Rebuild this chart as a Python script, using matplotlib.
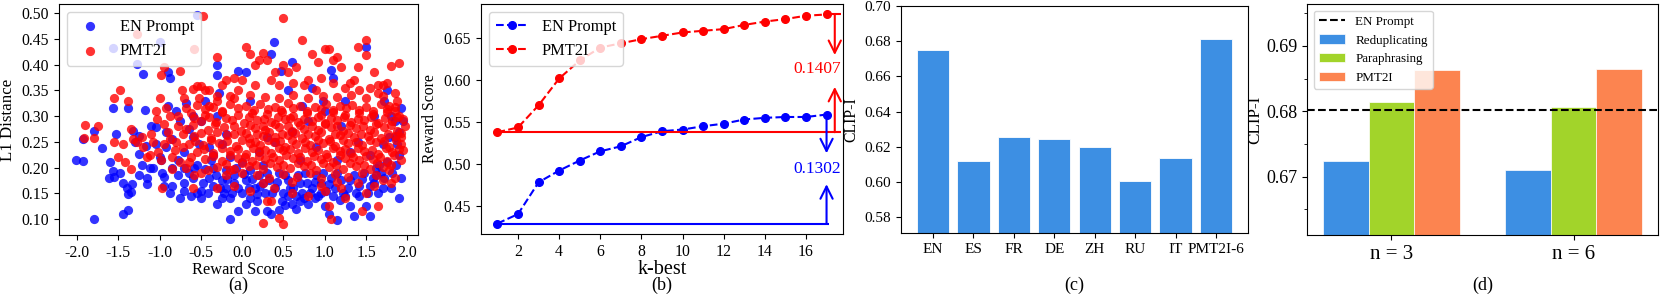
import matplotlib.pyplot as plt
from matplotlib.ticker import MultipleLocator, FormatStrFormatter

plt.rcParams["font.family"] = ["Liberation Serif", "DejaVu Serif"]

# ---------------- (a) scatter: reward score vs L1 distance ----------------
en_points = [
    (-2.02, 0.215), (-1.93, 0.213), (-1.93, 0.255), (-1.80, 0.101), (-1.80, 0.272),
    (-1.70, 0.238), (-1.60, 0.211), (-1.57, 0.193), (-1.55, 0.181), (-1.57, 0.315),
    (-1.53, 0.265), (-1.45, 0.170), (-1.45, 0.110), (-1.38, 0.118), (-1.38, 0.148),
    (-1.35, 0.152), (-1.40, 0.160), (-1.38, 0.315), (-1.33, 0.168), (-1.30, 0.250),
    (-1.32, 0.272), (-1.25, 0.185), (-1.25, 0.226), (-1.27, 0.402), (-1.57, 0.433),
    (-1.20, 0.382), (-1.18, 0.312), (-1.17, 0.242), (-1.15, 0.168), (-1.15, 0.180),
    (-1.00, 0.444), (-1.05, 0.278), (-1.00, 0.220), (-0.98, 0.215), (-0.97, 0.190),
    (-0.95, 0.181), (-0.92, 0.240), (-0.90, 0.320), (-0.90, 0.385), (-0.87, 0.375),
    (-0.85, 0.165), (-0.85, 0.200), (-0.80, 0.310), (-0.75, 0.140), (-0.70, 0.170),
    (-0.68, 0.325), (-0.65, 0.190), (-0.60, 0.180), (-0.55, 0.150), (-0.50, 0.155),
    (-0.50, 0.140), (-0.45, 0.198), (-0.35, 0.165), (-0.30, 0.130), (-0.30, 0.400),
    (-0.30, 0.380), (-0.28, 0.345), (-0.25, 0.140), (-0.22, 0.150), (-0.20, 0.160),
    (-0.15, 0.100), (-0.10, 0.170), (-0.05, 0.115), (-0.05, 0.388), (0.00, 0.150),
    (0.05, 0.385), (0.05, 0.130), (0.10, 0.140), (0.15, 0.115), (0.25, 0.170),
    (0.30, 0.115), (0.35, 0.110), (0.35, 0.420), (0.38, 0.445), (0.45, 0.118),
    (0.47, 0.388), (0.60, 0.405), (0.55, 0.145), (0.60, 0.130), (0.65, 0.120),
    (0.70, 0.135), (0.75, 0.140), (0.80, 0.130), (0.85, 0.355), (0.95, 0.150),
    (1.00, 0.125), (1.05, 0.110), (1.08, 0.390), (1.10, 0.375), (1.15, 0.098),
    (1.25, 0.145), (1.30, 0.125), (1.35, 0.105), (1.50, 0.435), (1.50, 0.125),
    (1.55, 0.105), (1.55, 0.165), (1.65, 0.150), (1.70, 0.160), (1.75, 0.350),
    (1.80, 0.300), (1.85, 0.260), (1.90, 0.140), (1.90, 0.225), (1.92, 0.315),
    (1.95, 0.290), (-0.55, 0.497),
    (-0.40, 0.180), (-0.35, 0.200), (-0.25, 0.175), (-0.20, 0.195), (-0.10, 0.185),
    (-0.05, 0.160), (0.05, 0.175), (0.10, 0.195), (0.15, 0.160), (0.20, 0.185),
    (0.28, 0.150), (0.32, 0.175), (0.40, 0.160), (0.45, 0.190), (0.50, 0.150),
    (0.55, 0.175), (0.62, 0.160), (0.68, 0.185), (0.72, 0.150), (0.78, 0.170),
    (0.85, 0.160), (0.90, 0.185), (0.95, 0.170), (1.02, 0.155), (1.08, 0.180),
    (1.12, 0.160), (1.20, 0.175), (1.28, 0.160), (1.35, 0.185), (1.42, 0.165),
    (1.48, 0.190), (1.58, 0.180), (1.62, 0.200), (1.68, 0.190), (1.75, 0.210),
    (1.82, 0.190), (1.88, 0.245), (1.85, 0.290), (1.72, 0.330), (-0.60, 0.260),
    (-0.50, 0.290), (-0.40, 0.240), (-0.15, 0.220), (0.00, 0.210), (0.20, 0.230),
    (0.40, 0.250), (0.60, 0.270), (0.80, 0.290), (1.00, 0.310), (1.20, 0.280),
    (1.40, 0.250), (-0.70, 0.230), (-0.75, 0.290), (-0.60, 0.300), (-0.45, 0.330),
    (-0.30, 0.300), (0.10, 0.330), (0.55, 0.350), (0.72, 0.320), (0.98, 0.330),
    (1.25, 0.330), (1.60, 0.300), (1.78, 0.260), (1.90, 0.270), (-1.10, 0.280),
    (-1.08, 0.200), (-1.25, 0.262), (-0.85, 0.255), (-0.78, 0.215), (-0.55, 0.205),
    (-0.35, 0.225), (-0.20, 0.265), (0.25, 0.205), (0.70, 0.215), (1.15, 0.215),
    (1.55, 0.225), (-0.15, 0.140), (0.18, 0.135), (0.52, 0.128), (0.88, 0.140),
    (1.18, 0.138), (1.42, 0.145), (1.62, 0.185), (-1.62, 0.180), (-1.48, 0.190),
    (-0.95, 0.165), (-0.88, 0.150), (-0.78, 0.185), (-0.70, 0.155), (-0.62, 0.145),
    (-0.58, 0.200), (-0.48, 0.170), (-0.42, 0.150), (-0.38, 0.215), (-0.32, 0.185),
    (-0.27, 0.160), (-0.18, 0.178), (-0.12, 0.150), (-0.08, 0.200), (0.02, 0.188),
    (0.08, 0.160), (0.12, 0.178), (0.18, 0.148), (0.22, 0.165), (0.30, 0.190),
    (0.36, 0.150), (0.42, 0.172), (0.48, 0.135), (0.52, 0.185), (0.58, 0.160),
    (0.65, 0.145), (0.70, 0.170), (0.76, 0.190), (0.82, 0.150), (0.88, 0.172),
    (0.92, 0.145), (0.98, 0.190), (1.05, 0.168), (1.10, 0.145), (1.15, 0.190),
    (1.22, 0.150), (1.30, 0.175), (1.38, 0.150), (1.45, 0.178), (1.52, 0.150),
    (1.60, 0.170), (1.66, 0.205), (1.72, 0.180), (1.80, 0.160), (1.86, 0.205),
    (1.92, 0.180), (-0.65, 0.275), (-0.52, 0.245), (-0.25, 0.245), (0.30, 0.260),
    (0.90, 0.240), (1.30, 0.230), (1.70, 0.245), (-1.05, 0.245), (-1.12, 0.200),
    (-1.22, 0.205), (-0.92, 0.270), (-0.70, 0.200),
]

pmt_points = [
    (-1.90, 0.283), (-1.92, 0.258), (-1.75, 0.280), (-1.80, 0.258), (-1.55, 0.335),
    (-1.48, 0.350), (-1.55, 0.250), (-1.50, 0.220), (-1.42, 0.210), (-1.38, 0.330),
    (-1.35, 0.275), (-1.35, 0.197), (-1.27, 0.460), (-1.27, 0.250), (-1.22, 0.260),
    (-1.20, 0.240), (-1.15, 0.220), (-1.12, 0.225), (-1.00, 0.335), (-1.05, 0.310),
    (-0.97, 0.160), (-0.98, 0.380), (-0.95, 0.395), (-0.92, 0.315), (-0.90, 0.270),
    (-0.88, 0.300), (-0.85, 0.220), (-0.85, 0.197), (-0.80, 0.250), (-0.75, 0.388),
    (-0.73, 0.350), (-0.70, 0.335), (-0.65, 0.210), (-0.62, 0.220), (-0.60, 0.352),
    (-0.58, 0.430), (-0.55, 0.358), (-0.50, 0.358), (-0.47, 0.495), (-0.45, 0.350),
    (-0.40, 0.350), (-0.40, 0.320), (-0.30, 0.415), (-0.30, 0.330), (-0.25, 0.360),
    (-0.20, 0.370), (-0.10, 0.375), (0.00, 0.370), (0.05, 0.435), (0.10, 0.420),
    (0.15, 0.400), (0.20, 0.410), (0.25, 0.422), (0.30, 0.410), (0.25, 0.093),
    (0.30, 0.135), (0.45, 0.102), (0.50, 0.090), (0.50, 0.490), (0.50, 0.400),
    (0.55, 0.385), (0.72, 0.448), (0.80, 0.370), (0.85, 0.420), (0.95, 0.375),
    (1.00, 0.430), (1.05, 0.430), (1.10, 0.410), (1.15, 0.415), (1.05, 0.125),
    (1.08, 0.100), (1.30, 0.365), (1.35, 0.370), (1.40, 0.435), (1.50, 0.448),
    (1.50, 0.418), (1.45, 0.115), (1.50, 0.150), (1.60, 0.385), (1.65, 0.125),
    (1.70, 0.360), (1.75, 0.365), (1.80, 0.397), (1.90, 0.403), (1.95, 0.295),
    (1.97, 0.280), (1.85, 0.345), (1.80, 0.170), (1.70, 0.175),
    (-1.45, 0.245), (-1.32, 0.255), (-1.10, 0.265), (-1.03, 0.295), (-0.95, 0.245),
    (-0.78, 0.280), (-0.72, 0.240), (-0.68, 0.200), (-0.60, 0.160), (-0.50, 0.190),
    (-0.30, 0.160), (-0.10, 0.165), (0.10, 0.155), (0.35, 0.135), (0.38, 0.160),
    (0.60, 0.150), (0.80, 0.145), (1.00, 0.155), (1.20, 0.160), (1.25, 0.140),
    (1.40, 0.170), (1.60, 0.165), (1.85, 0.180), (1.92, 0.215), (1.88, 0.330),
    (1.78, 0.320), (1.65, 0.345), (1.55, 0.355), (1.42, 0.350), (1.25, 0.355),
    (1.10, 0.365), (0.90, 0.350), (0.75, 0.360), (0.62, 0.365), (0.45, 0.360),
    (0.35, 0.370), (0.15, 0.360), (-0.05, 0.350), (-0.15, 0.340), (0.40, 0.385),
    (0.65, 0.395), (0.92, 0.405), (1.20, 0.395), (1.40, 0.395), (1.65, 0.360),
    (-0.95, 0.285), (-0.88, 0.255), (-0.82, 0.235), (-0.78, 0.300), (-0.72, 0.265),
    (-0.68, 0.315), (-0.75, 0.210), (-0.58, 0.185), (-0.42, 0.195), (-0.20, 0.185),
    (0.00, 0.190), (0.18, 0.185), (0.32, 0.180), (0.50, 0.188), (0.66, 0.182),
    (0.82, 0.190), (0.96, 0.180), (1.12, 0.188), (1.28, 0.182), (1.45, 0.190),
    (1.62, 0.185), (1.78, 0.195), (-0.52, 0.335), (-0.30, 0.340), (-0.10, 0.335),
    (0.10, 0.342), (0.28, 0.338), (0.45, 0.335), (0.62, 0.342), (0.80, 0.335),
    (0.98, 0.340), (1.15, 0.338), (1.32, 0.342), (1.50, 0.336), (1.70, 0.340),
    (1.85, 0.310), (1.93, 0.260), (1.95, 0.235), (-1.02, 0.230), (-1.08, 0.250),
    (-0.98, 0.215), (0.60, 0.172), (0.95, 0.165), (1.15, 0.172), (0.25, 0.170),
    (-0.15, 0.195),
    # dense core
    (-0.55, 0.322), (-0.35, 0.318), (-0.15, 0.324), (0.05, 0.319), (0.22, 0.323),
    (0.40, 0.317), (0.55, 0.325), (0.70, 0.320), (0.88, 0.318), (1.02, 0.324),
    (1.18, 0.319), (1.33, 0.322), (1.50, 0.317), (1.68, 0.323), (1.85, 0.318),
    (-0.62, 0.306), (-0.45, 0.303), (-0.25, 0.308), (-0.05, 0.302), (0.12, 0.307),
    (0.30, 0.304), (0.48, 0.309), (0.62, 0.301), (0.78, 0.306), (0.95, 0.303),
    (1.10, 0.308), (1.25, 0.302), (1.42, 0.306), (1.58, 0.304), (1.75, 0.309),
    (1.90, 0.301), (-0.50, 0.291), (-0.32, 0.288), (-0.12, 0.293), (0.02, 0.287),
    (0.18, 0.292), (0.35, 0.289), (0.52, 0.294), (0.68, 0.288), (0.85, 0.291),
    (1.00, 0.286), (1.15, 0.293), (1.32, 0.289), (1.48, 0.292), (1.65, 0.287),
    (1.82, 0.291), (-0.68, 0.276), (-0.42, 0.273), (-0.22, 0.278), (-0.02, 0.272),
    (0.15, 0.277), (0.28, 0.274), (0.45, 0.279), (0.60, 0.271), (0.75, 0.276),
    (0.92, 0.273), (1.08, 0.278), (1.22, 0.272), (1.38, 0.277), (1.55, 0.274),
    (1.72, 0.279), (1.88, 0.271), (-0.58, 0.261), (-0.38, 0.258), (-0.18, 0.263),
    (0.08, 0.257), (0.25, 0.262), (0.40, 0.259), (0.55, 0.264), (0.72, 0.258),
    (0.88, 0.261), (1.05, 0.256), (1.18, 0.263), (1.35, 0.259), (1.52, 0.262),
    (1.68, 0.257), (1.85, 0.261), (-0.65, 0.246), (-0.48, 0.243), (-0.28, 0.248),
    (-0.08, 0.242), (0.10, 0.247), (0.22, 0.244), (0.38, 0.249), (0.52, 0.241),
    (0.65, 0.246), (0.82, 0.243), (0.98, 0.248), (1.12, 0.242), (1.28, 0.247),
    (1.45, 0.244), (1.62, 0.249), (1.78, 0.241), (1.92, 0.246), (-0.55, 0.231),
    (-0.35, 0.228), (-0.15, 0.233), (0.05, 0.227), (0.20, 0.232), (0.35, 0.229),
    (0.50, 0.234), (0.68, 0.228), (0.85, 0.231), (1.02, 0.226), (1.18, 0.233),
    (1.32, 0.229), (1.48, 0.232), (1.65, 0.227), (1.82, 0.231), (-0.45, 0.216),
    (-0.25, 0.213), (-0.05, 0.218), (0.12, 0.212), (0.28, 0.217), (0.45, 0.214),
    (0.62, 0.219), (0.78, 0.213), (0.95, 0.216), (1.10, 0.211), (1.25, 0.218),
    (1.42, 0.214), (1.58, 0.217), (1.75, 0.212), (-0.30, 0.201), (-0.10, 0.198),
    (0.08, 0.203), (0.25, 0.197), (0.42, 0.202), (0.58, 0.199), (0.75, 0.204),
    (0.90, 0.196), (1.05, 0.201), (1.22, 0.198), (1.38, 0.203), (1.55, 0.197),
    (1.70, 0.202),
    (-0.45, 0.313), (-0.25, 0.310), (-0.05, 0.315), (0.14, 0.311), (0.31, 0.314),
    (0.47, 0.312), (0.62, 0.316), (0.79, 0.310), (0.95, 0.314), (1.10, 0.311),
    (1.26, 0.315), (1.41, 0.312), (1.59, 0.310), (1.76, 0.314), (-0.58, 0.297),
    (-0.40, 0.299), (-0.20, 0.296), (0.08, 0.298), (0.26, 0.295), (0.43, 0.299),
    (0.58, 0.297), (0.75, 0.295), (0.92, 0.299), (1.07, 0.296), (1.23, 0.298),
    (1.40, 0.295), (1.56, 0.299), (1.73, 0.296), (1.88, 0.298), (-0.60, 0.282),
    (-0.33, 0.284), (-0.10, 0.281), (0.09, 0.283), (0.25, 0.280), (0.40, 0.284),
    (0.55, 0.281), (0.70, 0.283), (0.84, 0.280), (1.00, 0.284), (1.15, 0.281),
    (1.30, 0.283), (1.46, 0.280), (1.62, 0.284), (1.80, 0.282), (-0.50, 0.267),
    (-0.30, 0.269), (-0.10, 0.266), (0.05, 0.268), (0.18, 0.265), (0.33, 0.269),
    (0.48, 0.266), (0.64, 0.268), (0.80, 0.265), (0.96, 0.269), (1.12, 0.266),
    (1.28, 0.268), (1.44, 0.265), (1.60, 0.269), (1.77, 0.266), (1.93, 0.268),
    (-0.57, 0.252), (-0.38, 0.254), (-0.18, 0.251), (0.00, 0.253), (0.16, 0.250),
    (0.31, 0.254), (0.46, 0.251), (0.60, 0.253), (0.76, 0.250), (0.92, 0.254),
    (1.06, 0.251), (1.22, 0.253), (1.38, 0.250), (1.55, 0.254), (1.72, 0.251),
    (1.86, 0.253), (-0.46, 0.237), (-0.25, 0.239), (-0.05, 0.236), (0.13, 0.238),
    (0.28, 0.235), (0.44, 0.239), (0.58, 0.236), (0.76, 0.238), (0.92, 0.235),
    (1.10, 0.239), (1.25, 0.236), (1.40, 0.238), (1.57, 0.235), (1.74, 0.239),
    (1.90, 0.236), (-0.36, 0.222), (-0.15, 0.224), (0.03, 0.221), (0.20, 0.223),
    (0.37, 0.220), (0.53, 0.224), (0.70, 0.221), (0.87, 0.223), (1.03, 0.220),
    (1.18, 0.224), (1.34, 0.221), (1.50, 0.223), (1.67, 0.220), (1.84, 0.224),
    (-0.20, 0.207), (0.00, 0.209), (0.17, 0.206), (0.34, 0.208), (0.50, 0.205),
    (0.67, 0.209), (0.83, 0.206), (0.98, 0.208), (1.14, 0.205), (1.30, 0.209),
    (1.47, 0.206), (1.63, 0.208), (1.80, 0.205),
]

# ---------------- (b) k-best reward score ----------------
k_best = list(range(1, 18))
en_reward = [0.4287, 0.440, 0.478, 0.492, 0.504, 0.515, 0.521, 0.532, 0.539,
             0.541, 0.545, 0.548, 0.553, 0.555, 0.556, 0.556, 0.5589]
pmt_reward = [0.5378, 0.5435, 0.570, 0.602, 0.6235, 0.639, 0.644, 0.649, 0.653,
              0.657, 0.659, 0.661, 0.666, 0.670, 0.673, 0.677, 0.6785]
en_gain = "0.1302"
pmt_gain = "0.1407"

# ---------------- (c) CLIP-I per language ----------------
languages = ["EN", "ES", "FR", "DE", "ZH", "RU", "IT", "PMT2I-6"]
lang_clip = [0.675, 0.612, 0.6256, 0.6247, 0.6201, 0.6006, 0.6137, 0.6815]

# ---------------- (d) CLIP-I per method ----------------
groups = ["n = 3", "n = 6"]
reduplicating = [0.6724, 0.6710]
paraphrasing = [0.6814, 0.6806]
pmt2i = [0.6863, 0.6865]
en_prompt_clip = 0.6802

BLUE_BAR = "#3d8fe3"
GREEN_BAR = "#a2d42a"
ORANGE_BAR = "#fc8450"

W, H = 1661, 295


def rect(left, top, right, bottom):
    return [left / W, 1 - bottom / H, (right - left) / W, (bottom - top) / H]


fig = plt.figure(figsize=(W / 100, H / 100), dpi=100)

# --- (a) ---
ax1 = fig.add_axes(rect(59, 4, 418, 235))
ax1.scatter([p[0] for p in en_points], [p[1] for p in en_points],
            color="blue", alpha=0.8, s=44, linewidths=0, label="EN Prompt")
ax1.scatter([p[0] for p in pmt_points], [p[1] for p in pmt_points],
            color="red", alpha=0.8, s=44, linewidths=0, label="PMT2I")
ax1.set_xlim(-2.22, 2.13)
ax1.set_ylim(0.069, 0.518)
ax1.xaxis.set_major_locator(MultipleLocator(0.5))
ax1.xaxis.set_major_formatter(FormatStrFormatter("%.1f"))
ax1.yaxis.set_major_locator(MultipleLocator(0.05))
ax1.yaxis.set_major_formatter(FormatStrFormatter("%.2f"))
ax1.tick_params(labelsize=11.3)
ax1.set_xlabel("Reward Score", fontsize=11.8, labelpad=1)
ax1.set_ylabel("L1 Distance", fontsize=12.2)
ax1.legend(loc="upper left", fontsize=11.8)

# --- (b) ---
ax2 = fig.add_axes(rect(481, 4, 843, 234))
ax2.plot(k_best, en_reward, "--o", color="blue", lw=1.5, ms=5.5, label="EN Prompt")
ax2.plot(k_best, pmt_reward, "--o", color="red", lw=1.5, ms=5.5, label="PMT2I")
ax2.hlines(pmt_reward[0], 1, 17.7, color="red", lw=1.5)
ax2.hlines(pmt_reward[-1], 17, 17.7, color="red", lw=1.5)
ax2.hlines(en_reward[0], 1, 17.1, color="blue", lw=1.5)
arrow_kw = dict(arrowstyle="->", lw=1.5, mutation_scale=22, shrinkA=0, shrinkB=0)
ax2.annotate("", xy=(17.4, 0.630), xytext=(17.4, pmt_reward[-1]),
             arrowprops=dict(color="red", **arrow_kw))
ax2.annotate("", xy=(17.4, 0.592), xytext=(17.4, pmt_reward[0]),
             arrowprops=dict(color="red", **arrow_kw))
ax2.annotate("", xy=(17.0, 0.5126), xytext=(17.0, en_reward[-1]),
             arrowprops=dict(color="blue", **arrow_kw))
ax2.annotate("", xy=(17.0, 0.4757), xytext=(17.0, en_reward[0]),
             arrowprops=dict(color="blue", **arrow_kw))
ax2.text(16.55, 0.6136, pmt_gain, color="red", fontsize=12.5, ha="center", va="center")
ax2.text(16.55, 0.4936, en_gain, color="blue", fontsize=12.5, ha="center", va="center")
ax2.set_xlim(0.2, 17.8)
ax2.set_ylim(0.4162, 0.691)
ax2.set_xticks(range(2, 17, 2))
ax2.yaxis.set_major_locator(MultipleLocator(0.05))
ax2.yaxis.set_major_formatter(FormatStrFormatter("%.2f"))
ax2.tick_params(labelsize=11.3)
ax2.set_xlabel("k-best", fontsize=14.5, labelpad=0)
ax2.set_ylabel("Reward Score", fontsize=11.3)
ax2.legend(loc="upper left", fontsize=11.8)

# --- (c) ---
ax3 = fig.add_axes(rect(901, 6, 1248, 233))
ax3.bar(range(len(languages)), lang_clip, width=0.8, color=BLUE_BAR,
        edgecolor="white", linewidth=0.6)
ax3.set_xticks(range(len(languages)))
ax3.set_xticklabels(languages)
ax3.set_ylim(0.571, 0.70)
ax3.yaxis.set_major_locator(MultipleLocator(0.02))
ax3.yaxis.set_major_formatter(FormatStrFormatter("%.2f"))
ax3.tick_params(labelsize=11)
ax3.set_ylabel("CLIP-I", fontsize=11.3)

# --- (d) ---
ax4 = fig.add_axes(rect(1307, 4, 1658, 235))
xs = range(len(groups))
ax4.axhline(en_prompt_clip, color="black", ls="--", lw=1.5, zorder=3, label="EN Prompt")
ax4.bar([x - 0.25 for x in xs], reduplicating, width=0.25, color=BLUE_BAR,
        edgecolor="white", linewidth=0.5, label="Reduplicating")
ax4.bar(list(xs), paraphrasing, width=0.25, color=GREEN_BAR,
        edgecolor="white", linewidth=0.5, label="Paraphrasing")
ax4.bar([x + 0.25 for x in xs], pmt2i, width=0.25, color=ORANGE_BAR,
        edgecolor="white", linewidth=0.5, label="PMT2I")
ax4.set_xlim(-0.4625, 1.4625)
ax4.set_ylim(0.6611, 0.6964)
ax4.set_xticks(list(xs))
ax4.set_xticklabels(groups, fontsize=15)
ax4.yaxis.set_major_locator(MultipleLocator(0.01))
ax4.yaxis.set_minor_locator(MultipleLocator(0.005))
ax4.yaxis.set_major_formatter(FormatStrFormatter("%.2f"))
ax4.tick_params(axis="y", labelsize=13)
ax4.set_ylabel("CLIP-I", fontsize=12.3, labelpad=2)
ax4.legend(loc="upper left", fontsize=9.4)

# panel captions
for ax, tag in zip([ax1, ax2, ax3, ax4], ["(a)", "(b)", "(c)", "(d)"]):
    bb = ax.get_position()
    fig.text((bb.x0 + bb.x1) / 2, 1 - 285 / H, tag, ha="center", va="center", fontsize=13)

fig.savefig("out.png", dpi=100)
